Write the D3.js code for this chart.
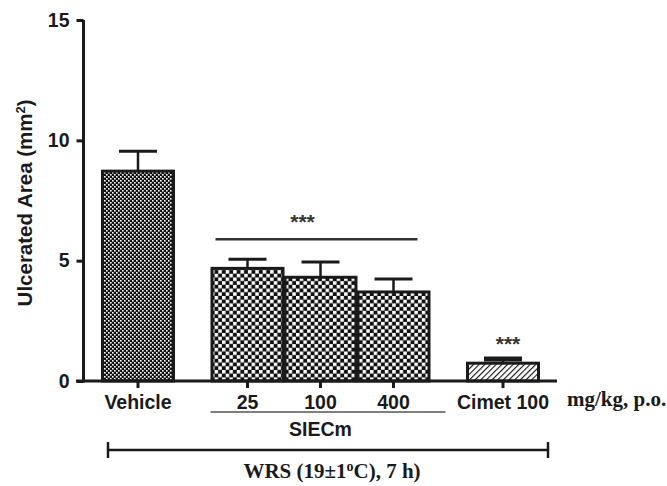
<!DOCTYPE html>
<html>
<head>
<meta charset="utf-8">
<script src="https://cdn.jsdelivr.net/npm/d3@7"></script>
<style>
body{margin:0;background:#fff;}
svg{display:block;font-family:"Liberation Sans",Arial,sans-serif;}
</style>
</head>
<body>
<div class="canvas"></div>
<script>
//data
var categories = ['Vehicle','25','100','400','Cimet 100'];
var groups = ['Vehicle','SIECm','SIECm','SIECm','Cimet'];
var means = [8.72, 4.68, 4.31, 3.70, 0.74];
var sems = [0.83, 0.38, 0.63, 0.54, 0.17];
var fills = ['fine','check','check','check','hatch'];
var yTicks = [0,5,10,15];
var stars = ['','***','***','***','***'];

var W = 667, H = 486;
var labelSize = 19.5;

var svg = d3.select('.canvas')
	.append('svg')
	.attr('width',W)
	.attr('height',H);

//patterns
var defs = svg.append('defs');

var fine = defs.append('pattern')
	.attr('id','fine')
	.attr('patternUnits','userSpaceOnUse')
	.attr('width',4).attr('height',4);
fine.append('rect').attr('width',4).attr('height',4).attr('fill','#111');
fine.append('rect').attr('x',0).attr('y',0).attr('width',1.6).attr('height',1.6).attr('fill','#fff');
fine.append('rect').attr('x',2).attr('y',2).attr('width',1.6).attr('height',1.6).attr('fill','#fff');

var check = defs.append('pattern')
	.attr('id','check')
	.attr('patternUnits','userSpaceOnUse')
	.attr('width',7.4).attr('height',7.4);
check.append('rect').attr('width',7.4).attr('height',7.4).attr('fill','#111');
check.append('rect').attr('x',0).attr('y',0).attr('width',3.5).attr('height',3.5).attr('fill','#fff');
check.append('rect').attr('x',3.7).attr('y',3.7).attr('width',3.5).attr('height',3.5).attr('fill','#fff');

var hatch = defs.append('pattern')
	.attr('id','hatch')
	.attr('patternUnits','userSpaceOnUse')
	.attr('width',4).attr('height',4)
	.attr('patternTransform','rotate(45)');
hatch.append('rect').attr('width',4).attr('height',4).attr('fill','#fff');
hatch.append('line').attr('x1',0).attr('y1',0).attr('x2',0).attr('y2',4)
	.attr('stroke','#111').attr('stroke-width',2.2);

//scales
var y = d3.scaleLinear().domain([0,15]).range([381,20]);

//slot index: half a slot of gap whenever the group changes
var slots = [], s = 0;
categories.forEach(function(c,i){
	if(i>0 && groups[i]!==groups[i-1]){ s = s + 0.5; }
	slots.push(s);
	s = s + 1;
});
var x = d3.scaleLinear().domain([0,5]).range([138,503]);
var bw = x(1)-x(0);

//bars
var bars = svg.append('g');
categories.forEach(function(c,i){
	bars.append('rect')
		.attr('x',x(slots[i])-bw/2+1)
		.attr('y',y(means[i]))
		.attr('width',bw-2)
		.attr('height',y(0)-y(means[i]))
		.attr('fill','url(#'+fills[i]+')')
		.attr('stroke','#1a1a1a')
		.attr('stroke-width',3);
	//error bar, upper only
	bars.append('line')
		.attr('x1',x(slots[i])).attr('x2',x(slots[i]))
		.attr('y1',y(means[i])).attr('y2',y(means[i]+sems[i]))
		.attr('stroke','#1a1a1a').attr('stroke-width',2.5);
	bars.append('line')
		.attr('x1',x(slots[i])-19).attr('x2',x(slots[i])+19)
		.attr('y1',y(means[i]+sems[i])).attr('y2',y(means[i]+sems[i]))
		.attr('stroke','#1a1a1a').attr('stroke-width',i===4 ? 5 : 3);
});

//y axis
var yAxis = svg.append('g')
	.attr('transform','translate(83.5,0)')
	.call(d3.axisLeft(y).tickValues(yTicks).tickSize(7).tickPadding(7));
yAxis.select('.domain').attr('stroke','#1a1a1a').attr('stroke-width',3).attr('d','M0,'+y(15)+'V'+(y(0)+1.5));
yAxis.selectAll('.tick line').attr('stroke','#1a1a1a').attr('stroke-width',3);
yAxis.selectAll('.tick text').attr('font-size',labelSize).attr('font-weight','bold').attr('fill','#1a1a1a')
	.attr('font-family','"Liberation Sans",Arial,sans-serif');

//x axis
var xAxis = svg.append('g');
xAxis.append('line')
	.attr('x1',76).attr('x2',x(slots[4])+54)
	.attr('y1',y(0)).attr('y2',y(0))
	.attr('stroke','#1a1a1a').attr('stroke-width',3);
categories.forEach(function(c,i){
	xAxis.append('line')
		.attr('x1',x(slots[i])).attr('x2',x(slots[i]))
		.attr('y1',y(0)).attr('y2',y(0)+7)
		.attr('stroke','#1a1a1a').attr('stroke-width',3);
	xAxis.append('text')
		.attr('x',x(slots[i])).attr('y',y(0)+28)
		.attr('text-anchor','middle')
		.attr('font-size',labelSize).attr('font-weight','bold').attr('fill','#1a1a1a')
		.text(c);
});

//y title
svg.append('text')
	.attr('transform','translate(32,'+y(7.4)+') rotate(-90)')
	.attr('text-anchor','middle')
	.attr('font-size',20.5).attr('font-weight','bold').attr('fill','#1a1a1a')
	.text('Ulcerated Area (mm')
	.append('tspan').attr('baseline-shift','super').attr('font-size',13).text('2')
	.select(function(){ return this.parentNode; })
	.append('tspan').text(')');

//significance marks
var sieIdx = [], cimIdx = [];
categories.forEach(function(c,i){
	if(groups[i]==='SIECm') sieIdx.push(i);
	if(groups[i]==='Cimet') cimIdx.push(i);
});
var sieTop = d3.max(sieIdx, function(i){ return means[i]+sems[i]; });
svg.append('line')
	.attr('x1',x(slots[sieIdx[0]])-32).attr('x2',x(slots[sieIdx[sieIdx.length-1]])+24)
	.attr('y1',y(sieTop)-20).attr('y2',y(sieTop)-20)
	.attr('stroke','#333').attr('stroke-width',2.5);
svg.append('text')
	.attr('x',x(slots[sieIdx[1]])-18).attr('y',y(sieTop)-30)
	.attr('text-anchor','middle').attr('font-size',21).attr('font-weight','bold').attr('fill','#333')
	.text(stars[sieIdx[0]]);
svg.append('text')
	.attr('x',x(slots[cimIdx[0]])+5).attr('y',y(means[cimIdx[0]]+sems[cimIdx[0]])-8)
	.attr('text-anchor','middle').attr('font-size',21).attr('font-weight','bold').attr('fill','#333')
	.text(stars[cimIdx[0]]);

//SIECm group underline and label
svg.append('line')
	.attr('x1',x(slots[sieIdx[0]])-37).attr('x2',x(slots[sieIdx[sieIdx.length-1]])+52)
	.attr('y1',412).attr('y2',412)
	.attr('stroke','#555').attr('stroke-width',1.5);
svg.append('text')
	.attr('x',x(slots[sieIdx[1]])).attr('y',436)
	.attr('text-anchor','middle').attr('font-size',labelSize).attr('font-weight','bold').attr('fill','#1a1a1a')
	.text('SIECm');

//units
svg.append('text')
	.attr('x',567).attr('y',406)
	.attr('font-family','"Liberation Serif","Times New Roman",serif')
	.attr('font-size',21).attr('font-weight','bold').attr('fill','#1a1a1a')
	.text('mg/kg, p.o.');

//WRS bracket
var br = svg.append('g').attr('stroke','#1a1a1a').attr('stroke-width',2.5);
br.append('line').attr('x1',108).attr('x2',548).attr('y1',450).attr('y2',450);
br.append('line').attr('x1',108).attr('x2',108).attr('y1',442).attr('y2',458);
br.append('line').attr('x1',548).attr('x2',548).attr('y1',442).attr('y2',458);

var wrs = svg.append('text')
	.attr('x',332).attr('y',478)
	.attr('text-anchor','middle')
	.attr('font-family','"Liberation Serif","Times New Roman",serif')
	.attr('font-size',21).attr('font-weight','bold').attr('fill','#1a1a1a');
wrs.append('tspan').text('WRS (19\u00b11');
wrs.append('tspan').attr('baseline-shift','super').attr('font-size',14).text('o');
wrs.append('tspan').text('C), 7 h)');
</script>
</body>
</html>
